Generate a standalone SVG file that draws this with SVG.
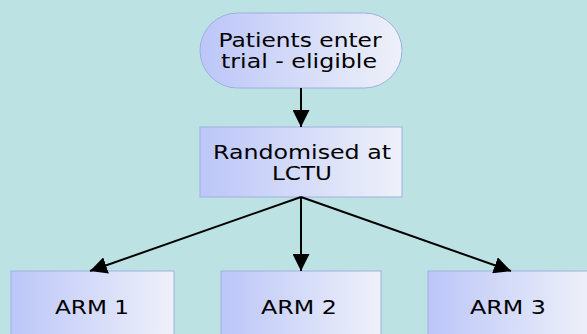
<svg xmlns="http://www.w3.org/2000/svg" width="587" height="334" viewBox="0 0 587 334">
<defs>
<linearGradient id="g" x1="0" y1="0" x2="1" y2="0">
<stop offset="0" stop-color="#bcc6f8"/>
<stop offset="1" stop-color="#eef1f9"/>
</linearGradient>
<marker id="a" viewBox="0 0 17 17" refX="17" refY="8.5" markerWidth="17" markerHeight="17" orient="auto" markerUnits="userSpaceOnUse">
<path d="M0,0 L17,8.5 L0,17 z" fill="#000"/>
</marker>
</defs>
<style>
.n{fill:url(#g);stroke:#9fb0e0;stroke-width:1}
.t{font-family:"DejaVu Sans",Verdana,sans-serif;font-size:19px;fill:#000;text-anchor:middle}
.c{stroke:#000;stroke-width:2;fill:none;marker-end:url(#a)}
</style>
<rect width="587" height="334" fill="#bce2e3"/>
<g id="start">
<rect class="n" x="200" y="13" width="202" height="75" rx="37.5" ry="37.5"/>
<text class="t" x="300" y="47" textLength="163" lengthAdjust="spacingAndGlyphs">Patients enter</text>
<text class="t" x="299" y="68" textLength="156" lengthAdjust="spacingAndGlyphs">trial - eligible</text>
</g>
<g id="rand">
<rect class="n" x="200" y="127" width="202" height="70"/>
<text class="t" x="302" y="159" textLength="178" lengthAdjust="spacingAndGlyphs">Randomised at</text>
<text class="t" x="302" y="180" textLength="60" lengthAdjust="spacingAndGlyphs">LCTU</text>
</g>
<g id="arm1">
<rect class="n" x="11" y="271" width="163" height="70"/>
<text class="t" x="92" y="314" textLength="74" lengthAdjust="spacingAndGlyphs">ARM 1</text>
</g>
<g id="arm2">
<rect class="n" x="221" y="271" width="160" height="70"/>
<text class="t" x="299" y="314" textLength="76" lengthAdjust="spacingAndGlyphs">ARM 2</text>
</g>
<g id="arm3">
<rect class="n" x="428" y="271" width="165" height="70"/>
<text class="t" x="508" y="314" textLength="76" lengthAdjust="spacingAndGlyphs">ARM 3</text>
</g>
<g id="connectors">
<line class="c" x1="301" y1="88" x2="301" y2="127"/>
<line class="c" x1="301" y1="197" x2="90" y2="271"/>
<line class="c" x1="301" y1="197" x2="301" y2="271"/>
<line class="c" x1="301" y1="197" x2="511" y2="271"/>
</g>
</svg>
